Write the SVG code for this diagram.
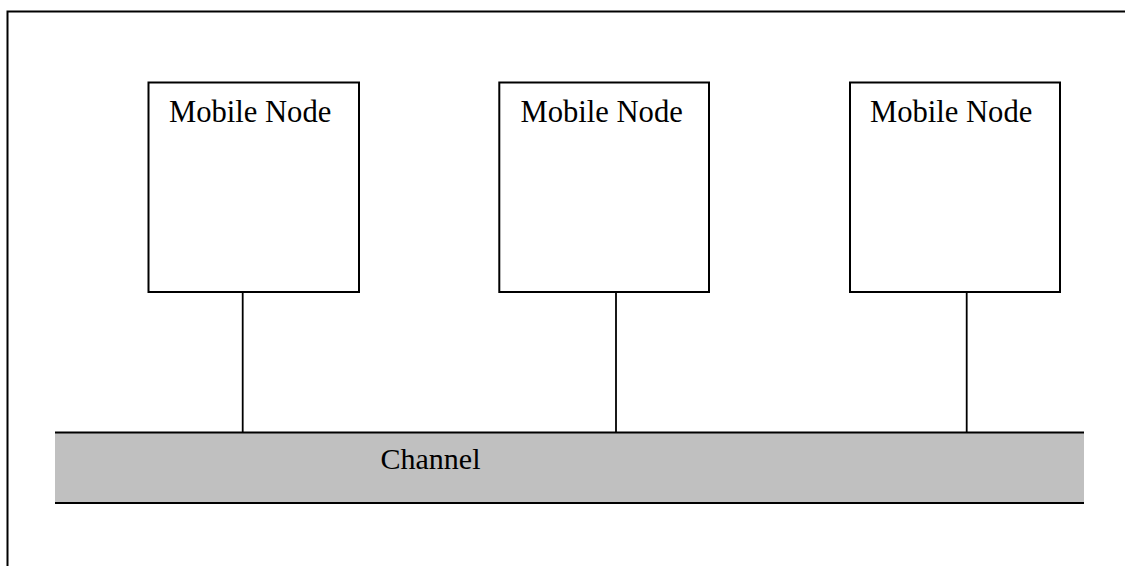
<svg xmlns="http://www.w3.org/2000/svg" width="1125" height="566" viewBox="0 0 1125 566">
  <style>
    .frame { fill: none; stroke: #000; stroke-width: 2; }
    .node rect { fill: #fff; stroke: #000; stroke-width: 2; }
    .label { font-family: "Liberation Serif", "Times New Roman", serif; font-size: 30px; fill: #000; }
    .nodeLabel { font-size: 30.6px; }
    .link { stroke: #000; stroke-width: 1.8; }
    .bus { fill: #c0c0c0; }
    .busEdge { stroke: #000; stroke-width: 2; }
  </style>
  <rect width="1125" height="566" fill="#fff"/>
  <!-- outer frame, open to the right and bottom -->
  <path class="frame" d="M7.5 570 V11.5 H1130"/>

  <!-- shared channel -->
  <g id="channel">
    <rect class="bus" x="55" y="432.5" width="1029" height="70.5"/>
    <line class="busEdge" x1="55" y1="432.5" x2="1084" y2="432.5"/>
    <line class="busEdge" x1="55" y1="503" x2="1084" y2="503"/>
    <text class="label" x="380.5" y="469">Channel</text>
  </g>

  <!-- node to channel links -->
  <g id="connectors">
    <line class="link" x1="242.7" y1="292" x2="242.7" y2="432"/>
    <line class="link" x1="616" y1="292" x2="616" y2="432"/>
    <line class="link" x1="966.7" y1="292" x2="966.7" y2="432"/>
  </g>

  <g id="node1" class="node">
    <rect x="148.5" y="82.5" width="210.5" height="209.5"/>
    <text class="label nodeLabel" x="169" y="121.7">Mobile Node</text>
  </g>
  <g id="node2" class="node">
    <rect x="499.3" y="82.5" width="209.7" height="209.5"/>
    <text class="label nodeLabel" x="520.5" y="121.7">Mobile Node</text>
  </g>
  <g id="node3" class="node">
    <rect x="850" y="82.5" width="210" height="209.5"/>
    <text class="label nodeLabel" x="870" y="121.7">Mobile Node</text>
  </g>
</svg>
